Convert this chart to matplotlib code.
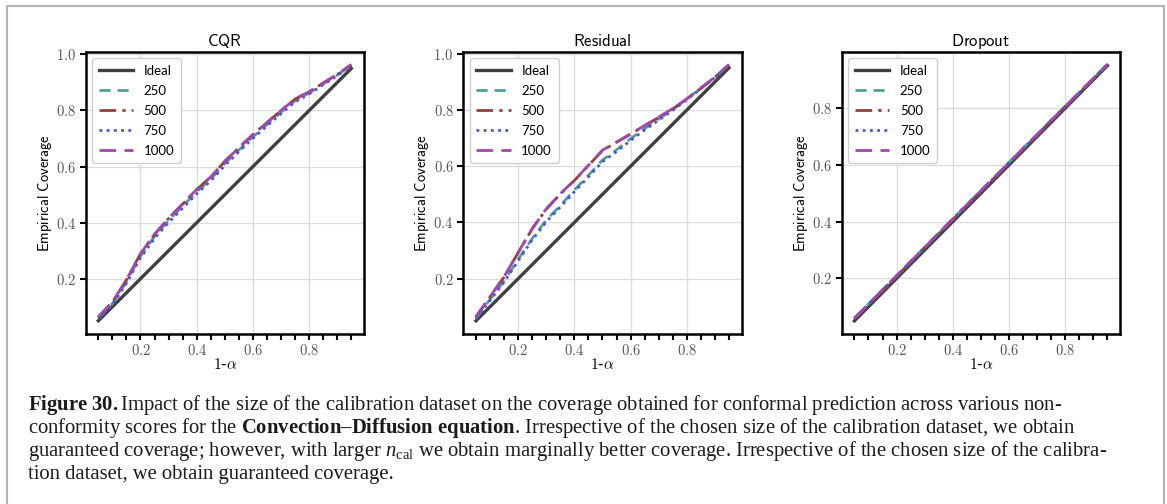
import matplotlib
matplotlib.use("Agg")
import matplotlib.pyplot as plt
from matplotlib.patches import Rectangle
from matplotlib.ticker import MultipleLocator

plt.rcParams.update({
    "mathtext.fontset": "cm",
    "mathtext.rm": "Liberation Serif",
    "mathtext.it": "Liberation Serif:italic",
    "mathtext.bf": "Liberation Serif:bold",
})

# 1 - alpha levels
alpha_levels = [0.05, 0.10, 0.15, 0.20, 0.25, 0.30, 0.35, 0.40, 0.45, 0.50,
                0.55, 0.60, 0.65, 0.70, 0.75, 0.80, 0.85, 0.90, 0.95]

panel_titles = ["CQR", "Residual", "Dropout"]
series_labels = ["250", "500", "750", "1000"]

cqr_250 = [0.060, 0.111, 0.189, 0.281, 0.351, 0.408, 0.459, 0.510, 0.555, 0.611,
           0.659, 0.706, 0.750, 0.794, 0.835, 0.862, 0.895, 0.926, 0.962]
cqr_500 = [0.063, 0.116, 0.196, 0.289, 0.358, 0.415, 0.466, 0.518, 0.563, 0.619,
           0.667, 0.714, 0.757, 0.800, 0.841, 0.866, 0.898, 0.928, 0.963]
cqr_750 = [0.057, 0.107, 0.184, 0.275, 0.344, 0.401, 0.452, 0.503, 0.549, 0.604,
           0.653, 0.701, 0.745, 0.789, 0.831, 0.859, 0.892, 0.924, 0.961]
cqr_1000 = [0.064, 0.117, 0.196, 0.289, 0.359, 0.416, 0.467, 0.519, 0.563, 0.619,
            0.667, 0.714, 0.757, 0.800, 0.841, 0.867, 0.898, 0.929, 0.964]

res_250 = [0.059, 0.126, 0.192, 0.268, 0.343, 0.408, 0.460, 0.515, 0.568, 0.622,
           0.658, 0.698, 0.734, 0.768, 0.802, 0.839, 0.878, 0.917, 0.960]
res_500 = [0.064, 0.135, 0.206, 0.292, 0.377, 0.447, 0.501, 0.549, 0.602, 0.656,
           0.685, 0.714, 0.744, 0.774, 0.804, 0.839, 0.877, 0.916, 0.961]
res_750 = [0.057, 0.123, 0.188, 0.263, 0.338, 0.402, 0.455, 0.509, 0.562, 0.616,
           0.652, 0.692, 0.729, 0.764, 0.799, 0.837, 0.876, 0.916, 0.960]
res_1000 = [0.065, 0.136, 0.207, 0.293, 0.378, 0.448, 0.502, 0.550, 0.603, 0.657,
            0.686, 0.715, 0.745, 0.775, 0.805, 0.840, 0.878, 0.917, 0.962]

drop_250 = [0.059, 0.110, 0.160, 0.210, 0.260, 0.310, 0.360, 0.410, 0.460, 0.510,
            0.559, 0.609, 0.659, 0.708, 0.758, 0.807, 0.856, 0.905, 0.954]
drop_500 = [0.057, 0.107, 0.157, 0.207, 0.257, 0.307, 0.357, 0.407, 0.457, 0.506,
            0.556, 0.606, 0.655, 0.705, 0.755, 0.804, 0.854, 0.903, 0.953]
drop_750 = [0.058, 0.108, 0.158, 0.208, 0.258, 0.308, 0.358, 0.408, 0.458, 0.508,
            0.557, 0.607, 0.657, 0.706, 0.756, 0.805, 0.855, 0.904, 0.954]
drop_1000 = [0.059, 0.109, 0.159, 0.209, 0.259, 0.309, 0.359, 0.409, 0.459, 0.509,
             0.558, 0.608, 0.658, 0.707, 0.757, 0.806, 0.855, 0.905, 0.955]

panel_data = [
    [cqr_250, cqr_500, cqr_750, cqr_1000],
    [res_250, res_500, res_750, res_1000],
    [drop_250, drop_500, drop_750, drop_1000],
]

x_ticks = [0.2, 0.4, 0.6, 0.8]
y_ticks = [0.2, 0.4, 0.6, 0.8, 1.0]

caption_lines = [
    r"$\mathbf{Figure\ 30.}$Impact of the size of the calibration dataset on the coverage obtained for conformal prediction across various non-",
    r"conformity scores for the $\mathbf{Convection–Diffusion\ equation}$. Irrespective of the chosen size of the calibration dataset, we obtain",
    r"guaranteed coverage; however, with larger $\mathit{n}_{\mathrm{cal}}$ we obtain marginally better coverage. Irrespective of the chosen size of the calibra-",
    r"tion dataset, we obtain guaranteed coverage.",
]

colors = ["#4f9e9b", "#9c3f3a", "#4455e0", "#a048aa"]
styles = [(0, (4, 2.5)), (0, (6, 2.2, 1.2, 2.2)), (0, (1, 1.6)), (0, (6, 3))]

fig = plt.figure(figsize=(11.67, 5.04), dpi=100)
fig.patches.append(Rectangle((7 / 1167, -0.02), 1157 / 1167, 1.0 - 6 / 504 + 0.02,
                             transform=fig.transFigure, fill=False,
                             ec="#b4b4b4", lw=1.5))

lefts = [0.0734, 0.3970, 0.7213]
for i, left in enumerate(lefts):
    ax = fig.add_axes([left, 0.338, 0.2385, 0.5595])
    ax.grid(True, color="#dcdcdc", lw=1.0)
    ax.set_axisbelow(True)
    ax.plot(alpha_levels, alpha_levels, color="#404040", lw=2.4, label="Ideal")
    for vals, lab, c, ls in zip(panel_data[i], series_labels, colors, styles):
        ax.plot(alpha_levels, vals, color=c, ls=ls, lw=2.0, label=lab)
    ax.set_xticks(x_ticks, labels=[f"${t:.1f}$" for t in x_ticks])
    ax.set_yticks(y_ticks, labels=[f"${t:.1f}$" for t in y_ticks])
    ax.xaxis.set_minor_locator(MultipleLocator(0.05))
    ax.tick_params(which="both", direction="out", length=4, width=1.5,
                   color="black", labelcolor="#555555", labelsize=10.5, pad=3)
    ax.tick_params(axis="y", which="minor", length=0)
    for sp in ax.spines.values():
        sp.set_linewidth(1.8)
    if i == 2:
        ax.set_ylim(0.005, 0.999)
    ax.set_title(r"$\mathsf{" + panel_titles[i] + "}$", fontsize=12, pad=4)
    ax.set_xlabel(r"$1$-$\alpha$", fontsize=11, labelpad=-1)
    ax.set_ylabel(r"$\mathsf{Empirical\ Coverage}$", fontsize=10.5)
    ax.yaxis.set_label_coords(-0.115, 0.5)
    ax.legend(loc="upper left", prop={"family": "Lato", "size": 9.5},
              handlelength=2.6, handletextpad=0.8, framealpha=1,
              edgecolor="#d0d0d0", fancybox=True, borderpad=0.5, labelspacing=0.6)

baselines = [410, 433, 456, 479]
for line, yb in zip(caption_lines, baselines):
    fig.text(28 / 1167, 1 - yb / 504, line, family="Liberation Serif", fontsize=14.9,
             va="baseline", ha="left", color="#1a1a1a", math_fontfamily="custom")

fig.savefig("out.png", dpi=100)
